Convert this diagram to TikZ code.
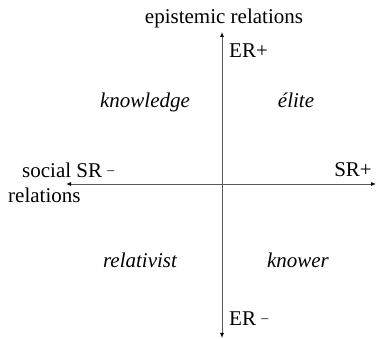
\documentclass[tikz,border=0pt]{standalone}
\usepackage{fontspec}
\setmainfont{Liberation Serif}
\usetikzlibrary{arrows.meta}
\newcommand{\lowdash}{\ \raisebox{0.4ex}{\fontsize{14}{14}\selectfont –}}
\begin{document}
\begin{tikzpicture}[x=1pt,y=-1pt,
  lbl/.style={inner sep=0pt,font=\fontsize{21}{25}\selectfont},
  quad/.style={lbl,anchor=base,font=\fontsize{21}{25}\selectfont\itshape},
  axis/.style={draw=black!65,line width=0.9pt,-{Latex[length=5pt,width=4pt,color=black]}}]
\useasboundingbox (0,0) rectangle (376,339);
% axis ends
\coordinate (origin) at (222,184);
\coordinate (top) at (222,32);
\coordinate (bottom) at (222,338);
\coordinate (left) at (66,184);
\coordinate (right) at (376,184);
% axes
\draw[axis] (origin) -- (top);
\draw[axis] (origin) -- (bottom);
\draw[axis] (origin) -- (left);
\draw[axis] (origin) -- (right);
% axis labels
\node[lbl,anchor=base] (epi) at (224,24) {epistemic relations};
\node[lbl,anchor=base west] (erplus) at (229,58) {ER+};
\node[lbl,anchor=base west] (erminus) at (229,326) {ER\lowdash};
\node[lbl,anchor=base west] (social) at (22,178) {social SR\lowdash};
\node[lbl,anchor=base west] (rel) at (8,203) {relations};
\node[lbl,anchor=base east] (srplus) at (372,177) {SR+};
% quadrant labels
\node[quad] (knowledge) at (145,108) {knowledge};
\node[quad] (elite) at (296,108) {élite};
\node[quad] (relativist) at (140,268) {relativist};
\node[quad] (knower) at (298,268) {knower};
\end{tikzpicture}
\end{document}
